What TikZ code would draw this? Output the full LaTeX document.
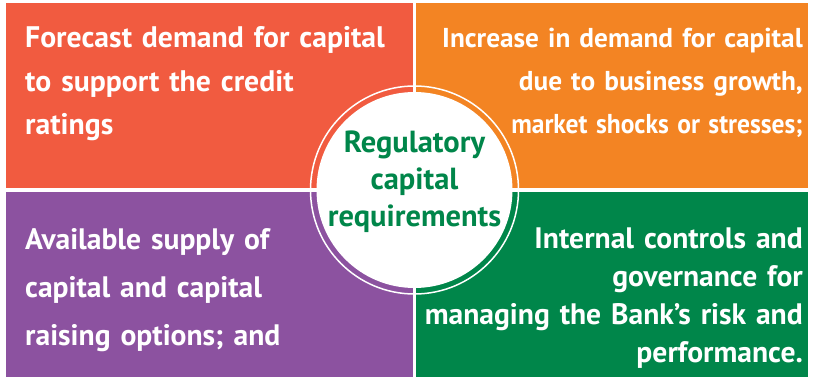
\documentclass[tikz,border=0pt]{standalone}
\usepackage{graphicx}
\usepackage{fontspec}
\setmainfont{PT Sans}
\definecolor{qred}{HTML}{F15B40}
\definecolor{qorange}{HTML}{F38423}
\definecolor{qpurple}{HTML}{8C52A0}
\definecolor{qgreen}{HTML}{00864A}
\definecolor{cgreen}{HTML}{00864A}
\begin{document}
\begin{tikzpicture}[x=1pt,y=-1pt,
  lbl/.style={text=white, inner sep=0pt, text width=395pt},
  qfont/.style 2 args={font=\bfseries\fontsize{#1}{#2}\selectfont}]
\useasboundingbox (0,0) rectangle (814,379);
\fill[white] (0,0) rectangle (814,379);
\fill[qred] (6,3) rectangle (413,188);
\fill[qorange] (416,3) rectangle (808,188);
\fill[qpurple] (6,192) rectangle (413,377);
\fill[qgreen] (416,192) rectangle (808,377);
\draw[white, line width=1.5pt] (414.5,190) circle[radius=104pt];
\fill[white] (414.5,190) circle[radius=98pt];
\node[lbl, qfont={29.7}{43.5}, anchor=base west, align=left] (tl) at (25,48)
  {Forecast demand for capital\\to support the credit\\ratings};
\node[lbl, qfont={27.3}{43}, anchor=base east, align=right] (tr) at (803,48)
  {Increase in demand for capital\\due to business growth,\\\scalebox{0.935}[1]{market shocks or stresses;}};
\node[lbl, qfont={29.6}{48}, anchor=base west, align=left] (bl) at (25,250)
  {Available supply of\\capital and capital\\raising options; and};
\node[lbl, qfont={29.6}{37.7}, anchor=base east, align=right] (br) at (803,249)
  {Internal controls and\\governance for\\managing the Bank’s risk and\\performance.};
\node[inner sep=0pt, text width=200pt, align=center, text=cgreen, qfont={30.5}{37}, anchor=base] (c) at (414.5,153)
  {Regulatory\\capital\\requirements};
\end{tikzpicture}
\end{document}
